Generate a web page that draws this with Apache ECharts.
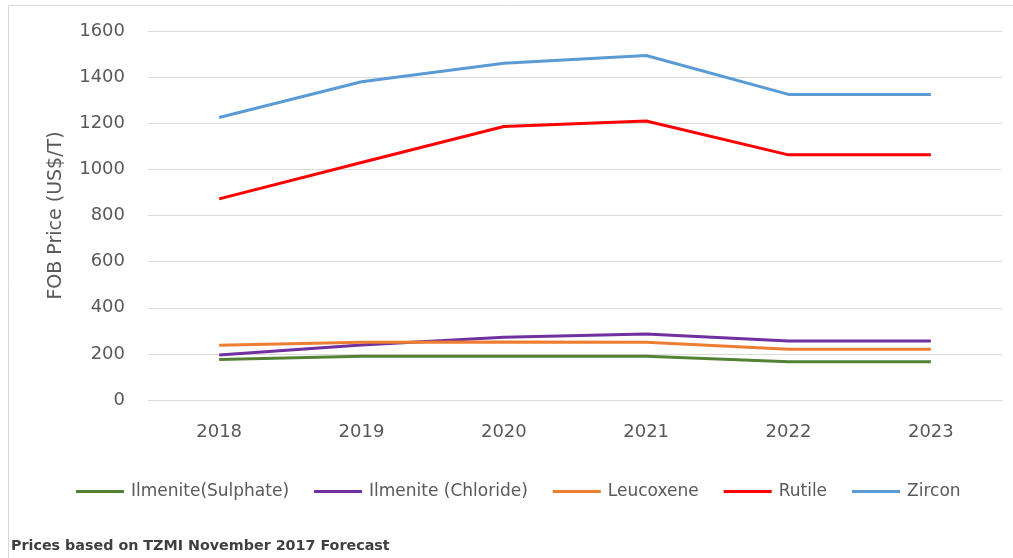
<!DOCTYPE html>
<html>
<head>
<meta charset="utf-8">
<script src="https://cdn.jsdelivr.net/npm/echarts@6/dist/echarts.min.js"></script>
<style>
html,body{margin:0;padding:0;background:#fff;}
#chart{width:1013px;height:558px;}
</style>
</head>
<body>
<div id="chart"></div>
<script>
const years = ['2018','2019','2020','2021','2022','2023'];
const ilmeniteSulphate = [176, 190, 190, 190, 166, 166];
const ilmeniteChloride = [195, 238, 272, 286, 256, 256];
const leucoxene = [237, 250, 252, 250, 220, 220];
const rutile = [872, 1030, 1186, 1210, 1063, 1063];
const zircon = [1225, 1380, 1460, 1494, 1325, 1325];
const seriesNames = ['Ilmenite(Sulphate)', 'Ilmenite (Chloride)', 'Leucoxene', 'Rutile', 'Zircon'];
const seriesColors = ['#548235', '#7030a0', '#ed7d31', '#ff0000', '#5b9bd5'];
const seriesData = [ilmeniteSulphate, ilmeniteChloride, leucoxene, rutile, zircon];
const yTicks = {min: 0, max: 1600, interval: 200};

const font = 'DejaVu Sans';
const chart = echarts.init(document.getElementById('chart'), null, {renderer: 'canvas'});
chart.setOption({
  animation: false,
  backgroundColor: '#fff',
  graphic: [
    {type: 'rect', shape: {x: 8.5, y: 5.5, width: 1020, height: 570}, style: {fill: 'none', stroke: '#d9d9d9', lineWidth: 1}},
    {type: 'text', left: 11, top: 539, style: {text: 'Prices based on TZMI November 2017 Forecast', font: 'bold 14.3px "DejaVu Sans"', fill: '#404040'}}
  ],
  grid: {left: 148, right: 11, top: 31, bottom: 158},
  legend: {
    data: seriesNames,
    left: 76,
    top: 483,
    itemWidth: 48,
    itemHeight: 3,
    itemGap: 25,
    icon: 'rect',
    padding: 0,
    textStyle: {fontFamily: font, fontSize: 17, color: '#595959', padding: [0,0,0,2]}
  },
  xAxis: {
    type: 'category',
    data: years,
    boundaryGap: true,
    axisLine: {lineStyle: {color: '#d9d9d9', width: 1}},
    axisTick: {show: false},
    axisLabel: {fontFamily: font, fontSize: 18, color: '#595959', margin: 23}
  },
  yAxis: {
    type: 'value',
    min: yTicks.min, max: yTicks.max, interval: yTicks.interval,
    name: 'FOB Price (US$/T)',
    nameLocation: 'middle',
    nameGap: 82,
    nameTextStyle: {fontFamily: font, fontSize: 19, color: '#595959'},
    axisLine: {show: false},
    axisTick: {show: false},
    splitLine: {lineStyle: {color: '#d9d9d9', width: 1}},
    axisLabel: {fontFamily: font, fontSize: 18, color: '#595959', margin: 23, formatter: v => String(v)}
  },
  series: seriesNames.map((n, i) => ({
    name: n,
    type: 'line',
    data: seriesData[i],
    symbol: 'none',
    lineStyle: {color: seriesColors[i], width: 3},
    itemStyle: {color: seriesColors[i]}
  }))
});
</script>
</body>
</html>
